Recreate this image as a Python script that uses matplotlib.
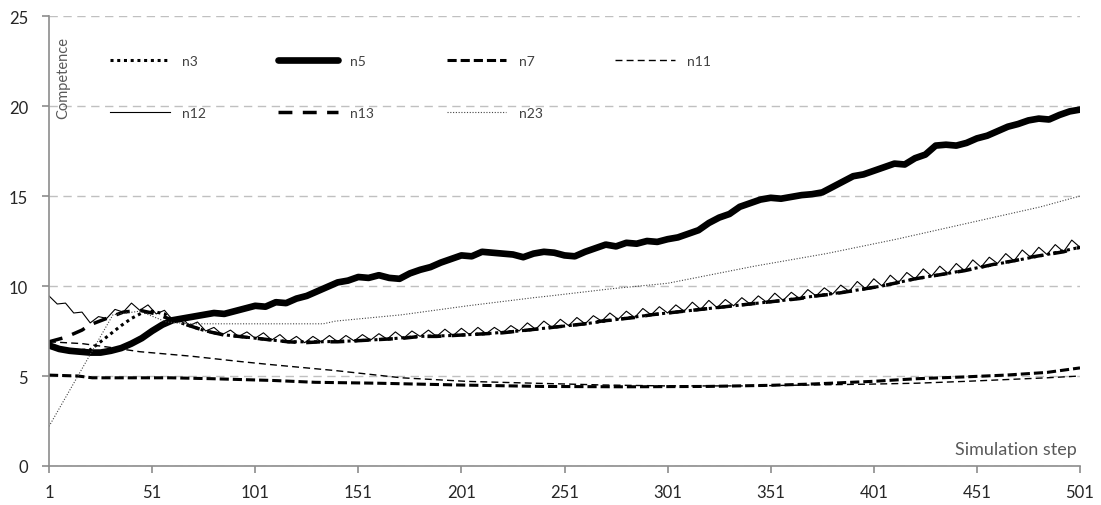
import matplotlib
matplotlib.use("Agg")
import matplotlib.pyplot as plt

plt.rcParams['font.family'] = ['Lato', 'DejaVu Sans']

# ---- data ----
steps_n5 = list(range(1, 502, 5))
n5 = [6.7, 6.5, 6.4, 6.35, 6.3, 6.3, 6.4, 6.55, 6.8, 7.1, 7.5, 7.85, 8.1, 8.2, 8.3, 8.4, 8.5, 8.45,
      8.6, 8.75, 8.9, 8.85, 9.1, 9.05, 9.3, 9.45, 9.7, 9.95, 10.2, 10.3, 10.5, 10.45, 10.6, 10.45,
      10.4, 10.7, 10.9, 11.05, 11.3, 11.5, 11.7, 11.65, 11.9, 11.85, 11.8, 11.75, 11.6, 11.8, 11.9,
      11.85, 11.7, 11.65, 11.9, 12.1, 12.3, 12.2, 12.4, 12.35, 12.5, 12.45, 12.6, 12.7, 12.9, 13.1,
      13.5, 13.8, 14.0, 14.4, 14.6, 14.8, 14.9, 14.85, 14.95, 15.05, 15.1, 15.2, 15.5, 15.8, 16.1,
      16.2, 16.4, 16.6, 16.8, 16.75, 17.1, 17.3, 17.8, 17.85, 17.8, 17.95, 18.2, 18.35, 18.6, 18.85,
      19.0, 19.2, 19.3, 19.25, 19.5, 19.7, 19.8]

steps_n12 = list(range(1, 502, 4))
n12 = [9.45, 9.00, 9.05, 8.50, 8.55, 7.95, 8.30, 8.20, 8.70, 8.55, 9.05, 8.65, 8.95, 8.45, 8.65, 8.10,
       8.30, 7.80, 8.00, 7.50, 7.70, 7.30, 7.55, 7.20, 7.45, 7.10, 7.40, 7.00, 7.30, 6.90, 7.20, 6.85,
       7.20, 6.90, 7.25, 6.90, 7.25, 6.95, 7.30, 7.00, 7.35, 7.05, 7.45, 7.10, 7.50, 7.20, 7.55, 7.20,
       7.60, 7.25, 7.65, 7.30, 7.70, 7.35, 7.70, 7.40, 7.80, 7.50, 7.95, 7.60, 8.05, 7.70, 8.15, 7.80,
       8.25, 7.90, 8.35, 8.05, 8.50, 8.15, 8.60, 8.25, 8.75, 8.40, 8.85, 8.50, 8.95, 8.60, 9.10, 8.70,
       9.20, 8.80, 9.25, 8.90, 9.35, 9.00, 9.45, 9.10, 9.60, 9.20, 9.65, 9.30, 9.80, 9.45, 9.90, 9.55,
       10.05, 9.70, 10.25, 9.85, 10.40, 10.00, 10.60, 10.20, 10.75, 10.40, 10.95, 10.55, 11.10, 10.70,
       11.25, 10.85, 11.45, 11.05, 11.60, 11.25, 11.80, 11.40, 12.00, 11.60, 12.15, 11.75, 12.30, 11.90,
       12.55, 12.15]

steps_n13 = [1, 9, 17, 21, 29, 37, 45, 53, 61, 69, 77, 85, 93, 101, 109, 117, 125, 133, 141, 149, 157,
             165, 173, 181, 189, 197, 205, 213, 221, 229, 237, 245, 253, 261, 269, 277, 285, 293, 301,
             309, 317, 325, 333, 341, 349, 357, 365, 373, 381, 389, 397, 405, 413, 421, 429, 437, 445,
             453, 461, 469, 477, 485, 493, 501]
n13 = [6.9, 7.15, 7.55, 7.85, 8.20, 8.55, 8.65, 8.45, 8.10, 7.80, 7.50, 7.30, 7.20, 7.10, 7.00, 6.90, 6.85,
       6.90, 6.90, 6.95, 7.00, 7.05, 7.10, 7.20, 7.20, 7.25, 7.30, 7.35, 7.40, 7.50, 7.60, 7.70, 7.80,
       7.90, 8.05, 8.15, 8.25, 8.40, 8.50, 8.60, 8.70, 8.80, 8.90, 9.00, 9.10, 9.20, 9.30, 9.45, 9.55,
       9.70, 9.85, 10.00, 10.20, 10.40, 10.55, 10.70, 10.85, 11.05, 11.25, 11.40, 11.60, 11.75, 11.90, 12.15]

steps_n3 = [1, 11, 21, 26, 31, 36, 41, 46, 51, 57, 61, 69, 77, 85, 93, 101, 117, 133, 149, 165, 181, 197,
            213, 229, 245, 261, 277, 293, 309, 325, 341, 357, 373, 389, 405, 421, 437, 453, 469, 485, 501]
n3 = [6.6, 6.4, 6.45, 6.9, 7.35, 7.8, 8.2, 8.5, 8.6, 8.45, 8.10, 7.80, 7.50, 7.30, 7.20, 7.10, 6.90, 6.90,
      6.95, 7.05, 7.20, 7.25, 7.35, 7.50, 7.70, 7.90, 8.15, 8.40, 8.60, 8.80, 9.00, 9.20, 9.45, 9.70,
      10.00, 10.40, 10.70, 11.05, 11.40, 11.75, 12.15]

steps_n7 = [1, 15, 22, 60, 80, 110, 130, 160, 200, 240, 280, 320, 350, 370, 400, 422, 445, 465, 485, 501]
n7 = [5.05, 5.0, 4.9, 4.9, 4.85, 4.75, 4.65, 4.6, 4.5, 4.42, 4.4, 4.42, 4.48, 4.55, 4.7, 4.85, 4.95,
      5.05, 5.2, 5.45]

steps_n11 = [1, 17, 30, 45, 70, 94, 107, 140, 172, 204, 236, 270, 300, 340, 370, 400, 422, 445, 465, 485, 501]
n11 = [6.9, 6.8, 6.6, 6.35, 6.1, 5.8, 5.65, 5.3, 4.9, 4.7, 4.6, 4.5, 4.45, 4.45, 4.5, 4.55, 4.6, 4.7,
       4.8, 4.9, 5.0]

steps_n23 = [1, 32, 45, 58, 70, 134, 140, 172, 204, 236, 244, 274, 301, 343, 378, 412, 447, 482, 501]
n23 = [2.2, 8.4, 8.6, 8.0, 7.9, 7.9, 8.05, 8.4, 8.9, 9.35, 9.45, 9.85, 10.15, 11.1, 11.8, 12.6, 13.5,
       14.4, 15.0]

x_ticks = [1, 51, 101, 151, 201, 251, 301, 351, 401, 451, 501]
y_ticks = [0, 5, 10, 15, 20, 25]

# ---- figure ----
fig = plt.figure(figsize=(11.01, 5.06), dpi=100)
ax = fig.add_axes([49 / 1101, 39 / 506, 1031 / 1101, 450 / 506])

ax.plot(steps_n3, n3, color='black', lw=2.2, linestyle=(0, (1, 1.2)), label='n3')
ax.plot(steps_n5, n5, color='black', lw=4.8, solid_joinstyle='round', solid_capstyle='round', label='n5')
ax.plot(steps_n7, n7, color='black', lw=2.2, linestyle=(0, (3, 1.3)), label='n7')
ax.plot(steps_n11, n11, color='black', lw=1.0, linestyle=(0, (5, 3)), label='n11')
ax.plot(steps_n12, n12, color='black', lw=0.8, label='n12')
ax.plot(steps_n13, n13, color='black', lw=2.5, linestyle=(0, (4, 3)), label='n13')
ax.plot(steps_n23, n23, color='#444444', lw=0.8, linestyle=(0, (1, 1.5)), label='n23')

ax.set_xlim(1, 501)
ax.set_ylim(0, 25)
ax.set_xticks(x_ticks)
ax.set_yticks(y_ticks)

for s in ['top', 'right']:
    ax.spines[s].set_visible(False)
for s in ['left', 'bottom']:
    ax.spines[s].set_color('#8c8c8c')
    ax.spines[s].set_linewidth(1.2)
ax.tick_params(direction='out', length=5, width=1.2, color='#8c8c8c',
               labelsize=12, labelcolor='#262626')
ax.tick_params(axis='x', pad=8)
ax.tick_params(axis='y', pad=10)

ax.yaxis.grid(True, color='#c0c0c0', lw=1.0, linestyle=(0, (6, 4)))
ax.set_axisbelow(True)

ax.text(0.0136, 0.865, 'Competence', transform=ax.transAxes, rotation=90,
        ha='center', va='center', fontsize=10.5, color='#595959')
ax.text(0.997, 0.038, 'Simulation step', transform=ax.transAxes,
        ha='right', va='center', fontsize=13, color='#595959')

h, l = ax.get_legend_handles_labels()
order = [0, 4, 1, 5, 2, 6, 3]
leg = ax.legend([h[i] for i in order], [l[i] for i in order], ncol=4,
                loc='upper left', bbox_to_anchor=(0.059, 0.914), frameon=False,
                borderpad=0, borderaxespad=0, fontsize=10, handlelength=4.3,
                handletextpad=0.9, columnspacing=5.2, labelspacing=2.9)
for t in leg.get_texts():
    t.set_color('#404040')

fig.savefig('out.png', dpi=100)
